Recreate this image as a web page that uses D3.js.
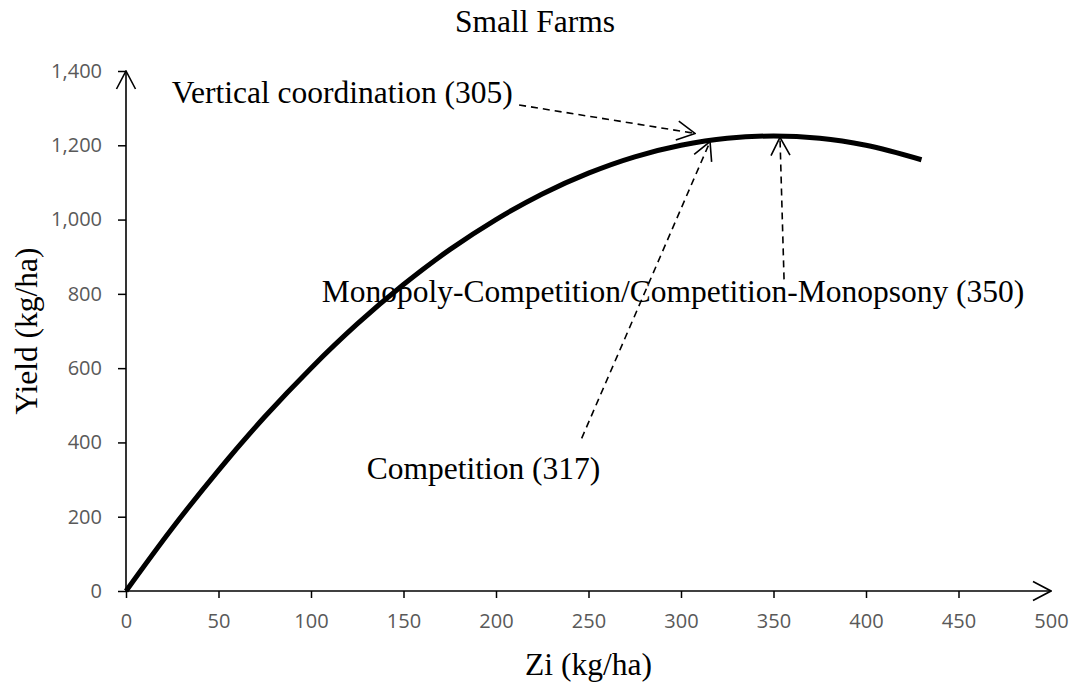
<!DOCTYPE html>
<html>
<head>
<meta charset="utf-8">
<script src="https://cdn.jsdelivr.net/npm/d3@7"></script>
<style>
  body { margin: 0; background: #fff; }
  .tick text { font-family: "Open Sans", "Liberation Sans", sans-serif; fill: #595959; font-size: 20px; }
  .tick line { stroke: #000; stroke-width: 1.5; }
  .serif { font-family: "Liberation Serif", "Times New Roman", serif; fill: #000; font-size: 31.5px; }
</style>
</head>
<body>
<svg class="chart"></svg>
<script>
let width = 1075;
let height = 685;

// fertilizer use Zi (kg/ha) and yield (kg/ha)
let zi = [0, 25, 50, 75, 100, 125, 150, 175, 200, 225, 250, 275, 300, 325, 350, 375, 400, 430];
let yieldKg = [0, 169, 325, 469, 600, 719, 825, 919, 1000, 1069, 1125, 1169, 1200, 1219, 1225, 1219, 1200, 1161];

let xTicks = [0, 50, 100, 150, 200, 250, 300, 350, 400, 450, 500];
let yTicks = [0, 200, 400, 600, 800, 1000, 1200, 1400];

// annotation labels, text anchor point and dashed arrow ends, all in data units
let noteLabels = ["Vertical coordination (305)", "Competition (317)", "Monopoly-Competition/Competition-Monopsony (350)"];
let noteText = [[24.7, 1313], [130.1, 300.7], [105.8, 779]];
let noteFrom = [[212.5, 1308.5], [246.3, 411], [355.7, 839]];
let noteTo = [[307.6, 1232], [315.7, 1210], [353.5, 1221.5]];

let svg = d3.select(".chart")
  .attr("width", width)
  .attr("height", height);

let x = d3.scaleLinear().domain([0, 500]).range([126, 1051]);
let y = d3.scaleLinear().domain([0, 1400]).range([591, 71]);

// open V arrowhead
svg.append("defs").append("marker")
  .attr("id", "arrow")
  .attr("markerUnits", "userSpaceOnUse")
  .attr("viewBox", "-1 -11 20 22")
  .attr("markerWidth", 20)
  .attr("markerHeight", 22)
  .attr("refX", 18)
  .attr("refY", 0)
  .attr("orient", "auto")
  .append("path")
  .attr("d", "M0,-9.5L18,0L0,9.5")
  .attr("fill", "none")
  .attr("stroke", "#000")
  .attr("stroke-width", 1.6);

// axes
let xAxis = svg.append("g")
  .attr("transform", "translate(0," + y(0) + ")")
  .call(d3.axisBottom(x).tickValues(xTicks).tickSize(7).tickPadding(16));
xAxis.select(".domain").remove();
xAxis.selectAll(".tick line").filter(function(d) { return d === 500; }).remove();

let yAxis = svg.append("g")
  .attr("transform", "translate(" + x(0) + ",0)")
  .call(d3.axisLeft(y).tickValues(yTicks).tickFormat(d3.format(",")).tickSize(8).tickPadding(16));
yAxis.select(".domain").remove();

svg.append("line")
  .attr("x1", x(0)).attr("y1", y(0))
  .attr("x2", x(500)).attr("y2", y(0))
  .attr("stroke", "#000").attr("stroke-width", 1.6)
  .attr("marker-end", "url(#arrow)");

svg.append("line")
  .attr("x1", x(0)).attr("y1", y(0))
  .attr("x2", x(0)).attr("y2", y(1400))
  .attr("stroke", "#000").attr("stroke-width", 1.6)
  .attr("marker-end", "url(#arrow)");

// yield curve
let line = d3.line()
  .x(function(d, i) { return x(zi[i]); })
  .y(function(d) { return y(d); })
  .curve(d3.curveMonotoneX);

svg.append("path")
  .datum(yieldKg)
  .attr("d", line)
  .attr("fill", "none")
  .attr("stroke", "#000")
  .attr("stroke-width", 5);

// annotations
noteLabels.forEach(function(label, i) {
  svg.append("line")
    .attr("x1", x(noteFrom[i][0])).attr("y1", y(noteFrom[i][1]))
    .attr("x2", x(noteTo[i][0])).attr("y2", y(noteTo[i][1]))
    .attr("stroke", "#000")
    .attr("stroke-width", 1.6)
    .attr("stroke-dasharray", "7,5")
    .attr("marker-end", "url(#arrow)");

  svg.append("text")
    .attr("class", "serif")
    .attr("x", x(noteText[i][0]))
    .attr("y", y(noteText[i][1]))
    .text(label);
});

// titles
svg.append("text")
  .attr("class", "serif")
  .attr("x", 535)
  .attr("y", 31.7)
  .attr("text-anchor", "middle")
  .text("Small Farms");

svg.append("text")
  .attr("class", "serif")
  .attr("x", (x(0) + x(500)) / 2)
  .attr("y", 675)
  .attr("text-anchor", "middle")
  .text("Zi (kg/ha)");

svg.append("text")
  .attr("class", "serif")
  .attr("transform", "translate(36.5," + (y(0) + y(1400)) / 2 + ") rotate(-90)")
  .attr("text-anchor", "middle")
  .text("Yield (kg/ha)");
</script>
</body>
</html>
